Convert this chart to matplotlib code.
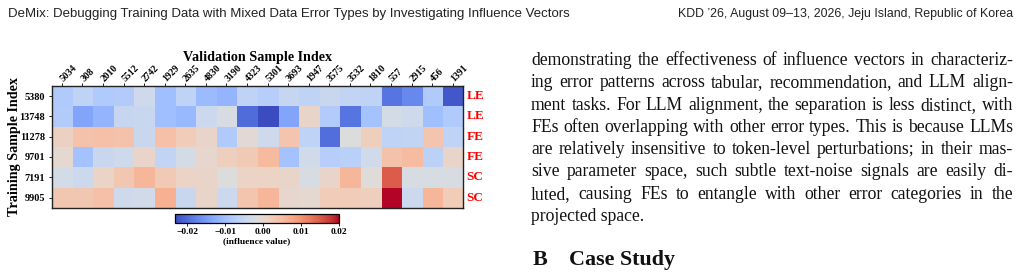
import numpy as np
import matplotlib
matplotlib.use('Agg')
from matplotlib import pyplot as plt

# ---- data ----
val_idx = ['5034', '308', '2010', '5512', '2742', '1929', '2635', '4830', '3190', '4323',
           '5301', '3693', '1947', '3575', '3532', '1810', '557', '2915', '456', '1391']
train_idx = ['5380', '13748', '11278', '9701', '7191', '9905']
err_type = ['LE', 'LE', 'FE', 'FE', 'SC', 'SC']

row_5380 = [-0.0081, -0.0060, -0.0080, -0.0077, -0.0038, -0.0100, -0.0060, -0.0107, -0.0115, -0.0060,
            -0.0072, -0.0050, -0.0060, -0.0046, -0.0055, -0.0060, -0.0190, -0.0170, -0.0080, -0.0220]
row_13748 = [-0.0077, -0.0137, -0.0115, -0.0050, -0.0046, -0.0100, -0.0110, -0.0042, -0.0025, -0.0200,
             -0.0232, -0.0137, 0.0006, -0.0077, -0.0190, -0.0094, -0.0030, -0.0038, -0.0100, -0.0080]
row_11278 = [0.0014, 0.0040, 0.0044, 0.0040, -0.0046, 0.0044, 0.0023, 0.0006, -0.0080, -0.0007,
             -0.0038, 0.0036, -0.0060, -0.0197, -0.0016, 0.0019, -0.0060, -0.0055, 0.0036, -0.0060]
row_9701 = [-0.0003, -0.0094, -0.0046, -0.0038, 0.0006, -0.0055, -0.0030, 0.0001, 0.0019, 0.0027,
            0.0053, -0.0094, -0.0033, -0.0072, -0.0068, -0.0033, 0.0040, 0.0049, -0.0064, 0.0006]
row_7191 = [-0.0030, -0.0042, 0.0010, 0.0032, 0.0057, 0.0027, 0.0010, 0.0006, -0.0016, 0.0010,
            0.0010, 0.0006, -0.0025, 0.0006, 0.0057, -0.0012, 0.0148, -0.0025, -0.0025, -0.0025]
row_9905 = [0.0032, 0.0032, 0.0044, -0.0038, -0.0033, 0.0066, -0.0046, 0.0006, -0.0042, 0.0036,
            0.0057, 0.0001, -0.0003, 0.0023, 0.0023, 0.0019, 0.0200, -0.0042, 0.0057, 0.0023]

body_lines = [
    "demonstrating the effectiveness of influence vectors in characteriz-",
    "ing error patterns across tabular, recommendation, and LLM align-",
    "ment tasks. For LLM alignment, the separation is less distinct, with",
    "FEs often overlapping with other error types. This is because LLMs",
    "are relatively insensitive to token-level perturbations; in their mas-",
    "sive parameter space, such subtle text-noise signals are easily di-",
    "luted, causing FEs to entangle with other error categories in the",
    "projected space.",
]

W, H = 1023, 275
fig = plt.figure(figsize=(W / 100, H / 100), dpi=100)
serif = ['Liberation Serif', 'DejaVu Serif']
narrow = ['Liberation Sans Narrow', 'Liberation Sans', 'DejaVu Sans']


def fx(px):
    return px / W


def fy(py):
    return 1 - py / H


# ---- header ----
fig.text(fx(8), fy(16.5), "DeMix: Debugging Training Data with Mixed Data Error Types by Investigating Influence Vectors",
         family=narrow, fontsize=9.5, color='#222222', va='baseline')
fig.text(fx(1013), fy(16.5), "KDD \u201926, August 09\u201313, 2026, Jeju Island, Republic of Korea",
         family=narrow, fontsize=8.9, color='#222222', va='baseline', ha='right')

# ---- heatmap ----
data = np.array([row_5380, row_13748, row_11278, row_9701, row_7191, row_9905])
ax_l, ax_r, ax_t, ax_b = 51.5, 463, 86, 207.7
ax = fig.add_axes([fx(ax_l), fy(ax_b), fx(ax_r - ax_l), (ax_b - ax_t) / H])
im = ax.imshow(data, cmap='coolwarm', aspect='auto', vmin=data.min(), vmax=data.max(),
               interpolation='nearest')
ax.xaxis.tick_top()
ax.set_xticks(range(len(val_idx)))
ax.set_xticklabels(val_idx, rotation=45, ha='left', va='center', rotation_mode='anchor',
                   fontsize=7, fontweight='bold', family=serif)
ax.set_yticks(range(len(train_idx)))
ax.set_yticklabels(train_idx, fontsize=7.4, fontweight='bold', family=serif)
ax.tick_params(axis='x', length=2.5, width=0.6, pad=2)
ax.tick_params(axis='y', length=2.5, width=0.6, pad=2)
for s in ax.spines.values():
    s.set_linewidth(1.0)
    s.set_color('#222222')
ax.set_xlabel('Validation Sample Index', fontsize=10.2, fontweight='bold', family=serif)
ax.xaxis.set_label_position('top')
ax.xaxis.set_label_coords(0.5, (ax_b - 61) / (ax_b - ax_t))
ax.set_ylabel('Training Sample Index', fontsize=10.2, fontweight='bold', family=serif)
ax.yaxis.set_label_coords((21 - ax_l) / (ax_r - ax_l), 0.5)

for i, lab in enumerate(err_type):
    ax.text(1.008, (len(err_type) - i - 0.5) / len(err_type), lab, transform=ax.transAxes,
            color='red', fontsize=9.5, fontweight='bold', family=serif, va='center', ha='left')

# ---- colorbar ----
cax = fig.add_axes([fx(175), fy(223), fx(339 - 175), 9 / H])
cb = fig.colorbar(im, cax=cax, orientation='horizontal')
cb.set_ticks([-0.02, -0.01, 0.0, 0.01, 0.02])
cb.ax.set_xticklabels(['\u22120.02', '\u22120.01', '0.00', '0.01', '0.02'],
                      fontsize=6.8, fontweight='bold', family=serif)
cb.ax.tick_params(length=2, width=0.6, pad=1.5)
cb.outline.set_linewidth(0.9)
cb.set_label('(influence value)', fontsize=6.8, fontweight='bold', family=serif, labelpad=1)

# ---- body text, justified ----
fig.canvas.draw()
r = fig.canvas.get_renderer()
x0, x1 = 531, 1013

# pick font size so that the justified lines have normal word spacing on average
probe = fig.text(0, 0, ' '.join(body_lines[:-1]), family=serif, fontsize=10)
natural = probe.get_window_extent(r).width / (len(body_lines) - 1)
probe.remove()
fs = 10 * (x1 - x0) / natural * 0.98

for k, line in enumerate(body_lines):
    yb = fy(65 + k * 22.3)
    words = line.split(' ')
    if k == len(body_lines) - 1:
        fig.text(fx(x0), yb, line, family=serif, fontsize=fs, va='baseline', color='#111111')
        continue
    ts = [fig.text(0, yb, w, family=serif, fontsize=fs, va='baseline', color='#111111') for w in words]
    widths = [t.get_window_extent(r).width for t in ts]
    gap = (x1 - x0 - sum(widths)) / (len(words) - 1)
    x = x0
    for t, w in zip(ts, widths):
        t.set_x(fx(x))
        x += w + gap

fig.text(fx(533), fy(265), 'B', family=serif, fontsize=15.8, fontweight='bold', va='baseline', color='#111111')
fig.text(fx(569), fy(265), 'Case Study', family=serif, fontsize=15.8, fontweight='bold', va='baseline',
         color='#111111')

fig.savefig('out.png', dpi=100)
